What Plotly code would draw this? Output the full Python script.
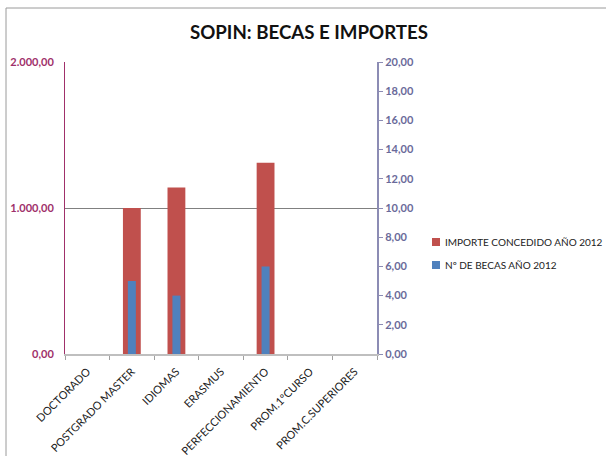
import plotly.graph_objects as go

categories = ["DOCTORADO", "POSTGRADO MASTER", "IDIOMAS", "ERASMUS",
              "PERFECCIONAMIENTO", "PROM.1ºCURSO", "PROM.C.SUPERIORES"]
importe = [0, 1000, 1140, 0, 1310, 0, 0]
becas = [0, 5, 4, 0, 6, 0, 0]
series_names = ["IMPORTE CONCEDIDO AÑO 2012", "Nº DE BECAS AÑO 2012"]
series_colors = ["#c0504d", "#4f81bd"]
left_ticks = [0, 1000, 2000]
left_labels = ["0,00", "1.000,00", "2.000,00"]
right_ticks = [0, 2, 4, 6, 8, 10, 12, 14, 16, 18, 20]
right_labels = ["0,00", "2,00", "4,00", "6,00", "8,00", "10,00", "12,00",
                "14,00", "16,00", "18,00", "20,00"]

W, H = 606, 456
L, R, T, B = 65, 377, 62, 354

fig = go.Figure()
fig.add_trace(go.Bar(x=categories, y=importe, name=series_names[0],
                     marker=dict(color=series_colors[0], line_width=0), width=0.4, yaxis="y"))
fig.add_trace(go.Bar(x=categories, y=becas, name=series_names[1],
                     marker=dict(color=series_colors[1], line_width=0), width=0.18, yaxis="y2"))

def px(xp):
    return (xp - L) / (R - L)

def py(yp):
    return (B - yp) / (B - T)

fig.update_layout(
    width=W, height=H,
    margin=dict(l=L, r=W - R, t=T, b=H - B, autoexpand=False),
    paper_bgcolor="white", plot_bgcolor="white",
    barmode="overlay",
    showlegend=False,
    font=dict(family="Lato", size=10, color="#222222"),
    title=dict(text="<b>SOPIN: BECAS E IMPORTES</b>", x=309 / W, xanchor="center",
               y=1 - 32 / H, yanchor="middle", font=dict(size=18.7, color="#111111")),
    xaxis=dict(type="category", tickangle=-45, ticks="outside", tickson="boundaries",
               ticklen=4, tickcolor="#a0a0a0", showline=True, linecolor="#bfbfbf",
               linewidth=2, tickfont=dict(size=11, color="#222222"), showgrid=False,
               ticklabelstandoff=5, automargin=False),
    yaxis=dict(range=[0, 2000], tickvals=left_ticks,
               ticktext=["<b>%s</b>" % t for t in left_labels], showline=True,
               linecolor="#a0306a", linewidth=1, gridcolor="#808080", gridwidth=1,
               ticks="", zeroline=False, ticklabelstandoff=8, automargin=False,
               tickfont=dict(size=11, color="#a0306a")),
    yaxis2=dict(range=[0, 20], tickvals=right_ticks,
                ticktext=["<b>%s</b>" % t for t in right_labels],
                overlaying="y", side="right", automargin=False,
                showline=True, linecolor="#8c8cb4", linewidth=2, ticks="outside",
                ticklen=4, tickcolor="#8c8cb4", showgrid=False, zeroline=False,
                tickfont=dict(size=11, color="#6a6a9a")),
)

# legend (drawn manually to match the compact Excel-style legend)
for i, (name, col) in enumerate(zip(series_names, series_colors)):
    yc = 242 + 23 * i
    fig.add_shape(type="rect", xref="paper", yref="paper",
                  x0=px(432), x1=px(440), y0=py(yc + 4), y1=py(yc - 4),
                  fillcolor=col, line_width=0)
    fig.add_annotation(xref="paper", yref="paper", x=px(443), y=py(yc),
                       xanchor="left", yanchor="middle", showarrow=False,
                       text=name, font=dict(size=10, color="#222222"))

fig.add_shape(type="rect", xref="paper", yref="paper",
              x0=px(6), x1=px(640), y0=py(8), y1=py(480),
              line=dict(color="#9a9a9a", width=1), fillcolor="rgba(0,0,0,0)", layer="below")

fig.write_html("out.html", config={"displayModeBar": False},
               post_script="document.body.style.margin='0';")
